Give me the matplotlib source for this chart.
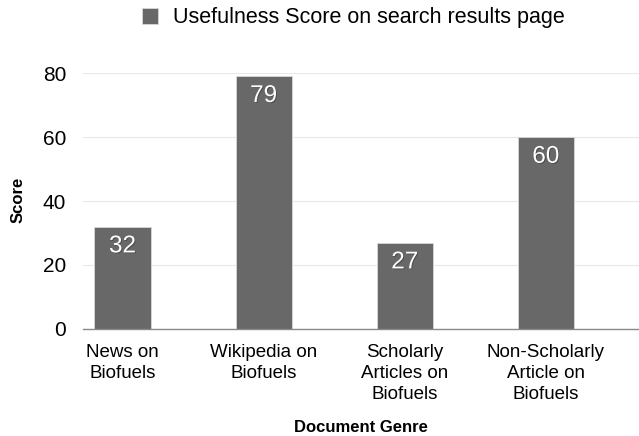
import matplotlib
matplotlib.use("Agg")
import matplotlib.pyplot as plt
import matplotlib.patheffects as pe

plt.rcParams['font.family'] = ['Liberation Sans', 'DejaVu Sans']

categories = ["News on\nBiofuels", "Wikipedia on\nBiofuels", "Scholarly\nArticles on\nBiofuels", "Non-Scholarly\nArticle on\nBiofuels"]
scores = [32, 79, 27, 60]
yticks = [0, 20, 40, 60, 80]
series_name = "Usefulness Score on search results page"

bar_color = "#686868"

fig = plt.figure(figsize=(6.39, 4.36), dpi=100)
ax = fig.add_axes([83/639, 1-329/436, 1-83/639, (329-73)/436])

x = list(range(len(categories)))
bars = ax.bar(x, scores, width=56/141, color=bar_color, edgecolor="#d8d8d8", linewidth=0.6, zorder=3, label=series_name)

for xi, v in zip(x, scores):
    ax.text(xi, v - 6.2, str(v), ha="center", va="center", color="white", fontsize=17.5,
            zorder=4, path_effects=[pe.withSimplePatchShadow(offset=(0.6, -0.6), shadow_rgbFace="#333333", alpha=0.6)])

ax.set_xlim(-0.28, 3.66)
ax.set_ylim(0, 80)
ax.set_yticks(yticks)
ax.set_yticklabels([str(t) for t in yticks], fontsize=15)
ax.set_xticks(x)
ax.set_xticklabels(categories, fontsize=13.5, linespacing=1.3, va="top")
ax.tick_params(axis="both", length=0)
ax.tick_params(axis="y", pad=12)
ax.tick_params(axis="x", pad=11)

ax.grid(axis="y", color="#e8e8e8", linewidth=0.8, zorder=0)
for s in ["top", "right", "left"]:
    ax.spines[s].set_visible(False)
ax.spines["bottom"].set_color("#8a8a8a")
ax.spines["bottom"].set_linewidth(1.0)
ax.spines["bottom"].set_zorder(5)

fig.text(18/639, 1-200/436, "Score", rotation=90, ha="center", va="center", fontsize=12, fontweight="bold")
fig.text(361/639, 1-427/436, "Document Genre", ha="center", va="center", fontsize=12, fontweight="bold")

leg = fig.legend(handles=[bars], labels=[series_name], loc="center", bbox_to_anchor=(353/639, 1-18/436),
                 frameon=False, fontsize=15.5, handlelength=0.75, handleheight=0.75, handletextpad=0.7)

fig.savefig("out.png", dpi=100)
